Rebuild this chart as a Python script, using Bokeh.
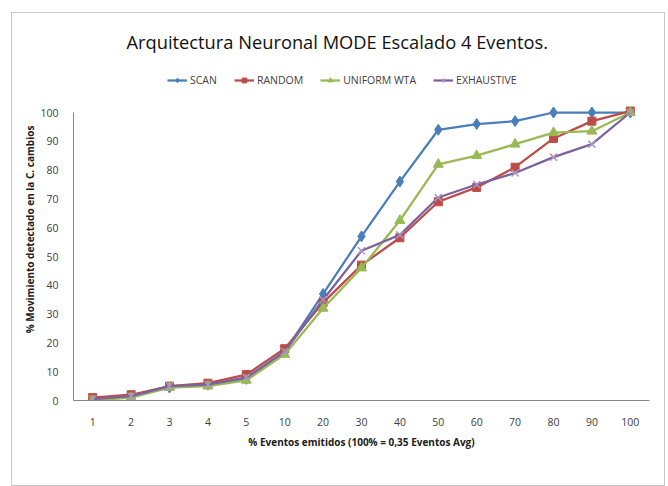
from bokeh.plotting import figure
from bokeh.models import Legend, LegendItem, Range1d
from bokeh.embed import file_html
from bokeh.resources import INLINE

categories = ["1", "2", "3", "4", "5", "10", "20", "30", "40", "50", "60", "70", "80", "90", "100"]
scan = [0.5, 1.5, 4.5, 5.5, 7.5, 17, 37, 57, 76, 94, 96, 97, 100, 100, 100]
random_ = [1, 2, 5, 6, 9, 18, 34, 47, 56.5, 69, 74, 81, 91, 97, 100.5]
uniform_wta = [0, 1, 4.5, 5, 7, 16, 32, 46, 62.5, 82, 85, 89, 93, 93.5, 100]
exhaustive = [0.5, 1.5, 5, 5.5, 8, 17, 35, 52, 57.5, 70.5, 75, 79, 84.5, 89, 100]
y_ticks = [0, 10, 20, 30, 40, 50, 60, 70, 80, 90, 100]

FONT = "Open Sans"

p = figure(x_range=categories, y_range=Range1d(0, 118.75), width=654, height=474,
           output_backend="svg", toolbar_location=None,
           min_border_left=61, min_border_right=17, min_border_top=45, min_border_bottom=87)
p.styles = {"border": "1px solid #c8c8c8", "margin-left": "11px", "margin-top": "12px"}
p.background_fill_color = "white"
p.border_fill_color = "white"
p.outline_line_color = None
p.grid.visible = False

p.title.text = "Arquitectura Neuronal MODE Escalado 4 Eventos."
p.title.align = "left"
p.title.offset = 53
p.title.text_font = FONT
p.title.text_font_size = "18.3px"
p.title.text_font_style = "normal"
p.title.text_color = "#111111"
p.title.standoff = 9

p.yaxis.ticker = y_ticks
p.yaxis.bounds = (0, 100)
p.xaxis.axis_line_color = "#868686"
p.yaxis.axis_line_color = "#868686"
for ax in (p.xaxis[0], p.yaxis[0]):
    ax.major_tick_line_color = None
    ax.minor_tick_line_color = None
    ax.major_label_text_font = FONT
    ax.major_label_text_font_size = "10.5px"
    ax.major_label_text_color = "#404040"
    ax.axis_label_text_font = FONT
    ax.axis_label_text_font_size = "10px"
    ax.axis_label_text_font_style = "bold"
    ax.axis_label_text_color = "#202020"
p.xaxis.major_label_standoff = 11
p.yaxis.major_label_standoff = 9
p.xaxis.axis_label = "% Eventos emitidos (100% = 0,35 Eventos Avg)"
p.yaxis.axis_label = "% Movimiento detectado en la C. cambios"
p.xaxis.axis_label_standoff = 6
p.yaxis.axis_label_standoff = 0

series = [
    ("SCAN", scan, "#4A7EBB", "diamond", 11),
    ("RANDOM", random_, "#BE4B48", "square", 8),
    ("UNIFORM WTA", uniform_wta, "#98B954", "triangle", 10),
    ("EXHAUSTIVE", exhaustive, "#7D60A0", "x", 10),
]
items = []
for name, vals, color, marker, size in series:
    r1 = p.line(categories, vals, line_color=color, line_width=2.25)
    if marker == "x":
        r2 = p.scatter(categories, vals, marker=marker, size=size, line_color="#A898C0", line_width=1.5)
    else:
        r2 = p.scatter(categories, vals, marker=marker, size=size, fill_color=color, line_color=color)
    items.append(LegendItem(label=name, renderers=[r1, r2]))

legend = Legend(items=items, orientation="horizontal", location=(94, 313),
                label_text_font=FONT, label_text_font_size="10.5px", label_text_color="#404040",
                glyph_width=20, glyph_height=12, label_height=14, label_standoff=3, spacing=17,
                border_line_color=None, background_fill_alpha=0, padding=0, margin=0)
p.add_layout(legend, "center")

open("out.html", "w").write(file_html(p, INLINE))
